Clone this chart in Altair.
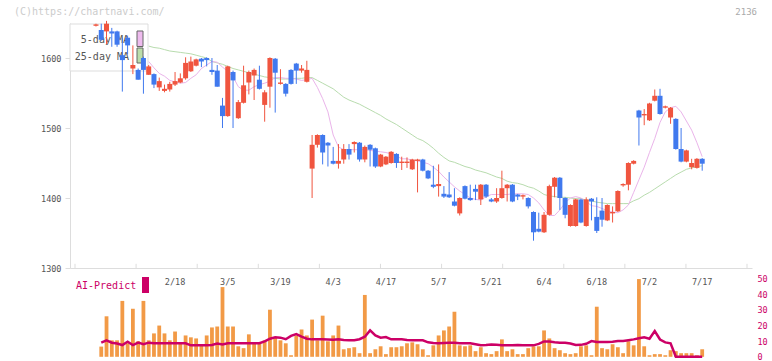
import altair as alt
import pandas as pd

# ---------------- data ----------------
opens = [1646, 1640, 1638, 1638, 1638, 1604, 1629, 1585, 1583, 1600,
         1576, 1577, 1558, 1553, 1555, 1562, 1565, 1571, 1581, 1589,
         1599, 1600, 1583, 1582, 1532, 1517, 1580, 1514, 1536, 1565,
         1575, 1569, 1533, 1559, 1599, 1563, 1563, 1583, 1592, 1582,
         1566, 1442, 1476, 1490, 1479, 1453, 1449, 1455, 1470, 1477,
         1479, 1455, 1476, 1471, 1445, 1448, 1450, 1463, 1450, 1450,
         1441, 1453, 1455, 1439, 1419, 1417, 1406, 1405, 1395, 1378,
         1417, 1400, 1413, 1398, 1419, 1398, 1395, 1400, 1414, 1419,
         1405, 1402, 1400, 1380, 1356, 1351, 1376, 1416, 1429, 1400,
         1360, 1360, 1398, 1360, 1399, 1373, 1382, 1368, 1378, 1381,
         1418, 1419, 1449, 1525, 1518, 1511, 1539, 1546, 1529, 1515,
         1513, 1470, 1452, 1444, 1443, 1456]
highs = [1649, 1649, 1653, 1643, 1639, 1629, 1632, 1618, 1585, 1602,
         1590, 1578, 1572, 1562, 1566, 1580, 1578, 1601, 1602, 1599,
         1600, 1601, 1600, 1590, 1543, 1589, 1582, 1540, 1589, 1582,
         1585, 1589, 1554, 1601, 1600, 1584, 1564, 1584, 1593, 1590,
         1596, 1490, 1491, 1491, 1480, 1473, 1477, 1477, 1477, 1481,
         1480, 1475, 1477, 1472, 1463, 1460, 1467, 1464, 1459, 1458,
         1456, 1456, 1456, 1440, 1446, 1448, 1417, 1437, 1414, 1401,
         1418, 1419, 1419, 1420, 1420, 1400, 1414, 1439, 1420, 1420,
         1406, 1405, 1401, 1381, 1379, 1380, 1419, 1430, 1430, 1401,
         1391, 1399, 1399, 1401, 1400, 1401, 1400, 1391, 1388, 1411,
         1421, 1451, 1454, 1526, 1527, 1536, 1555, 1556, 1532, 1530,
         1514, 1500, 1469, 1456, 1457, 1457]
lows = [1645, 1625, 1620, 1616, 1616, 1552, 1605, 1577, 1569, 1549,
        1576, 1557, 1553, 1551, 1552, 1560, 1564, 1569, 1580, 1588,
        1587, 1588, 1576, 1559, 1500, 1516, 1500, 1513, 1535, 1548,
        1540, 1555, 1509, 1529, 1522, 1562, 1545, 1562, 1563, 1579,
        1565, 1400, 1472, 1448, 1445, 1448, 1442, 1449, 1455, 1465,
        1452, 1451, 1445, 1443, 1444, 1447, 1449, 1443, 1440, 1443,
        1440, 1408, 1438, 1427, 1414, 1402, 1400, 1400, 1388, 1375,
        1398, 1396, 1397, 1390, 1400, 1394, 1393, 1399, 1395, 1394,
        1397, 1398, 1385, 1339, 1351, 1350, 1375, 1401, 1383, 1371,
        1359, 1359, 1364, 1359, 1368, 1350, 1359, 1367, 1365, 1380,
        1416, 1411, 1448, 1475, 1504, 1510, 1538, 1519, 1528, 1506,
        1469, 1451, 1451, 1441, 1442, 1439]
closes = [1648, 1626, 1649, 1635, 1619, 1597, 1618, 1590, 1569, 1583,
          1588, 1562, 1567, 1556, 1563, 1567, 1571, 1593, 1595, 1598,
          1595, 1597, 1580, 1559, 1517, 1588, 1568, 1537, 1561, 1580,
          1583, 1556, 1551, 1600, 1579, 1565, 1549, 1563, 1582, 1585,
          1583, 1476, 1490, 1465, 1475, 1449, 1453, 1470, 1462, 1480,
          1455, 1473, 1469, 1445, 1462, 1459, 1466, 1450, 1452, 1452,
          1455, 1455, 1439, 1428, 1416, 1420, 1402, 1401, 1389, 1400,
          1399, 1397, 1409, 1419, 1402, 1395, 1400, 1414, 1419, 1395,
          1402, 1404, 1388, 1351, 1352, 1376, 1417, 1429, 1400, 1376,
          1390, 1398, 1365, 1398, 1395, 1353, 1369, 1390, 1380, 1410,
          1420, 1450, 1453, 1515, 1520, 1535, 1546, 1520, 1531, 1529,
          1470, 1452, 1468, 1450, 1456, 1449]

# 5-day and 25-day moving averages, from day index 10 onward
ma5 = [1595, 1586, 1578, 1574, 1568, 1566, 1564, 1565, 1571, 1576,
       1585, 1590, 1595, 1594, 1587, 1581, 1573, 1559, 1554, 1554,
       1559, 1562, 1564, 1567, 1572, 1572, 1571, 1571, 1570, 1568,
       1569, 1571, 1558, 1542, 1523, 1490, 1473, 1469, 1469, 1469,
       1469, 1469, 1468, 1467, 1466, 1465, 1463, 1460, 1456, 1456,
       1454, 1453, 1451, 1449, 1444, 1438, 1430, 1423, 1416, 1410,
       1405, 1400, 1398, 1397, 1402, 1405, 1405, 1405, 1405, 1406,
       1406, 1406, 1405, 1400, 1393, 1383, 1375, 1375, 1383, 1393,
       1400, 1402, 1400, 1395, 1389, 1388, 1385, 1382, 1380, 1379,
       1383, 1390, 1408, 1426, 1444, 1465, 1485, 1508, 1523, 1529,
       1531, 1523, 1510, 1497, 1479, 1459]
ma25 = [1617, 1615, 1614, 1612, 1610, 1609, 1608, 1607, 1606, 1604,
        1602, 1600, 1595, 1593, 1591, 1588, 1585, 1583, 1581, 1579,
        1577, 1575, 1573, 1572, 1571, 1570, 1570, 1570, 1571, 1571,
        1572, 1572, 1568, 1564, 1560, 1556, 1550, 1544, 1540, 1537,
        1534, 1530, 1526, 1522, 1518, 1513, 1509, 1505, 1500, 1495,
        1490, 1485, 1482, 1477, 1471, 1464, 1458, 1453, 1451, 1448,
        1445, 1443, 1440, 1438, 1436, 1433, 1430, 1428, 1424, 1422,
        1421, 1419, 1416, 1414, 1410, 1405, 1403, 1402, 1401, 1401,
        1400, 1399, 1399, 1397, 1396, 1394, 1393, 1392, 1392, 1392,
        1392, 1392, 1396, 1399, 1404, 1408, 1413, 1418, 1423, 1428,
        1433, 1437, 1441, 1443, 1445, 1446]

# lower panel (day index 1 onward)
volume = [6.5, 25.8, 10.5, 10.5, 35.6, 8.6, 30.6, 9.9, 35.6, 10.5,
          14.9, 19.9, 14.9, 10.5, 16.1, 8.6, 13.6, 12.4, 11.7, 7.3,
          13.6, 18.7, 19.3, 44.4, 19.3, 19.3, 6.7, 5.5, 14.3, 8.6,
          8.6, 10.5, 30.0, 12.4, 10.5, 8.6, 1.0, 13.6, 17.4, 13.6,
          23.7, 10.5, 26.2, 9.9, 13.6, 19.9, 4.8, 5.5, 6.1, 2.3,
          39.4, 2.3, 4.8, 6.7, 1.7, 6.1, 6.1, 6.7, 8.6, 9.2,
          8.0, 4.8, 1.0, 7.3, 13.6, 16.8, 19.3, 28.7, 7.3, 6.7,
          7.3, 3.6, 6.1, 2.3, 1.7, 3.6, 11.1, 3.6, 4.8, 1.7,
          1.7, 5.5, 6.7, 6.7, 16.8, 11.7, 5.5, 4.2, 2.3, 1.7,
          2.3, 6.7, 7.3, 1.0, 31.9, 5.5, 4.8, 8.0, 6.1, 2.3,
          9.9, 7.3, 49.5, 6.7, 1.0, 1.7, 1.7, 1.0, 4.2, 3.6,
          2.3, 2.3, 2.3, 1.0, 4.8]
ai_predict = [9.0, 10.5, 9.0, 8.5, 7.5, 9.6, 7.5, 9.0, 8.0, 9.0,
              8.6, 8.6, 8.6, 8.6, 8.6, 8.6, 8.6, 7.3, 7.3, 7.3,
              7.3, 7.5, 8.4, 7.8, 8.6, 8.6, 8.6, 8.6, 8.6, 8.6,
              8.6, 9.8, 11.5, 12.4, 12.2, 11.2, 13.3, 14.5, 12.8, 11.5,
              11.1, 11.1, 11.1, 11.0, 10.9, 11.1, 10.7, 10.5, 10.5, 11.2,
              12.8, 16.8, 13.6, 12.2, 12.6, 11.1, 11.1, 11.1, 10.7, 10.5,
              10.5, 10.5, 9.2, 8.8, 8.6, 8.8, 9.0, 9.0, 8.7, 8.6,
              8.6, 8.0, 7.3, 7.5, 7.8, 7.6, 7.4, 7.3, 7.4, 7.5,
              7.4, 7.3, 7.3, 8.2, 9.8, 9.8, 9.3, 9.0, 9.0, 8.5,
              7.5, 7.6, 8.3, 10.0, 9.4, 9.4, 9.4, 9.6, 10.1, 10.1,
              10.6, 11.1, 11.8, 12.4, 11.5, 16.4, 11.0, 9.2, 8.6, 0.0,
              0.0, 0.0, 0.0, 0.0, 0.0]

date_idx = [15, 25, 35, 45, 55, 65, 75, 85, 95, 105, 115]
date_txt = ["2/18", "3/5", "3/19", "4/3", "4/17", "5/7", "5/21", "6/4", "6/18", "7/2", "7/17"]
price_ticks = [1300, 1400, 1500, 1600]
vol_ticks = [0, 10, 20, 30, 40, 50]
x_ticks = [-3.98, 7.61, 19.2, 30.79, 42.38, 53.97, 65.56, 77.15, 88.74, 100.33, 111.92, 123.5]

# ---------------- styling ----------------
RED = "#f0553f"
BLUE = "#4079ee"
PINK = "#eab4ea"
GREEN = "#b8dcae"
CRIMSON = "#cc0066"
ORANGE = "#f29a46"
AXIS_GRAY = "#dddddd"
MONO = "DejaVu Sans Mono"

n = len(opens)
candles = pd.DataFrame({"i": list(range(n)), "o": opens, "h": highs, "l": lows, "c": closes})
vdf = pd.DataFrame({"i": list(range(1, n)), "v": volume, "ai": ai_predict})
madf = pd.DataFrame({"i": list(range(10, n)), "ma5": ma5, "ma25": ma25})
ddf = pd.DataFrame({"i": date_idx, "t": date_txt})
tdf = pd.DataFrame({"i": x_ticks, "y0": [1300] * len(x_ticks), "y1": [1306] * len(x_ticks)})
one = pd.DataFrame({"k": [0]})

xs = alt.Scale(domain=[-3.98, 123.5], nice=False, zero=False)
xax = alt.Axis(values=x_ticks, labels=False, ticks=False, grid=False, title=None,
               domainColor=AXIS_GRAY, domainWidth=1)
X = alt.X("i:Q", scale=xs, axis=xax)

ps = alt.Scale(domain=[1300, 1650], nice=False, zero=False)
pax = alt.Axis(values=price_ticks, format="d", orient="left", grid=False, title=None, tickSize=5,
               tickColor=AXIS_GRAY, domainColor=AXIS_GRAY, labelFont=MONO, labelFontSize=8.5,
               labelColor="#555555", labelPadding=4)


def PY(f):
    return alt.Y(f, scale=ps, axis=pax)


vs = alt.Scale(domain=[0, 50], range=[333.8, 255.3], nice=False, zero=True)
vax = alt.Axis(values=vol_ticks, format="d", orient="right", grid=False, title=None, domain=False,
               ticks=False, labelFont=MONO, labelFontSize=8.5, labelColor=CRIMSON, labelPadding=5)


def VY(f):
    return alt.Y(f, scale=vs, axis=vax)


cond = alt.condition("datum.c >= datum.o", alt.value(RED), alt.value(BLUE))

ma25_line = alt.Chart(madf).mark_line(color=GREEN, strokeWidth=1).encode(x=X, y=PY("ma25:Q"))
ma5_line = alt.Chart(madf).mark_line(color=PINK, strokeWidth=1).encode(x=X, y=PY("ma5:Q"))

box = alt.Chart(one).mark_rect(fill="white", stroke=AXIS_GRAY, strokeWidth=1).encode(
    x=alt.value(0), x2=alt.value(78), y=alt.value(1), y2=alt.value(48))
lt1 = alt.Chart(one).mark_text(text="5-day MA", align="right", baseline="middle", font=MONO,
                               fontSize=10, color="#555555").encode(x=alt.value(59), y=alt.value(16.7))
lt2 = alt.Chart(one).mark_text(text="25-day MA", align="right", baseline="middle", font=MONO,
                               fontSize=10, color="#555555").encode(x=alt.value(59), y=alt.value(34))
sw1 = alt.Chart(one).mark_rect(fill="#eebbee", stroke="#666666", strokeWidth=1).encode(
    x=alt.value(67), x2=alt.value(73), y=alt.value(8), y2=alt.value(23.5))
sw2 = alt.Chart(one).mark_rect(fill="#bbddaa", stroke="#666666", strokeWidth=1).encode(
    x=alt.value(67), x2=alt.value(73), y=alt.value(25), y2=alt.value(40))

tick_rules = alt.Chart(tdf).mark_rule(color=AXIS_GRAY).encode(x=X, y=PY("y0:Q"), y2="y1:Q")
wicks = alt.Chart(candles).mark_rule(strokeWidth=1).encode(x=X, y=PY("l:Q"), y2="h:Q", color=cond)
bodies = alt.Chart(candles).mark_bar(size=5).encode(x=X, y=PY("o:Q"), y2="c:Q", color=cond)

dates = alt.Chart(ddf).mark_text(font=MONO, fontSize=8.5, color="#555555", baseline="middle").encode(
    x=X, y=alt.value(259.3), text="t:N")
wm1 = alt.Chart(one).mark_text(text="(C)https://chartnavi.com/", align="left", baseline="middle",
                               font=MONO, fontSize=10, color="#cccccc").encode(x=alt.value(-56), y=alt.value(-11))
wm2 = alt.Chart(one).mark_text(text="2136", align="right", baseline="middle",
                               font=MONO, fontSize=9, color="#aaaaaa").encode(x=alt.value(687), y=alt.value(-11))

price = alt.layer(ma25_line, ma5_line, box, lt1, lt2, sw1, sw2, tick_rules, wicks, bodies, dates, wm1, wm2)

vbars = alt.Chart(vdf).mark_bar(size=3.8, color=ORANGE).encode(x=X, y=VY("v:Q"))
ailine = alt.Chart(vdf).mark_line(color=CRIMSON, strokeWidth=2.5).encode(x=X, y=VY("ai:Q"))
ai_txt = alt.Chart(one).mark_text(text="AI-Predict", align="left", baseline="middle", font=MONO,
                                  fontSize=10, color=CRIMSON).encode(x=alt.value(6), y=alt.value(263))
ai_rect = alt.Chart(one).mark_rect(fill=CRIMSON).encode(
    x=alt.value(72), x2=alt.value(79), y=alt.value(254), y2=alt.value(270))

vol = alt.layer(vbars, ailine, ai_txt, ai_rect)

chart = alt.layer(price, vol).resolve_scale(y="independent").properties(
    width=682, height=245,
    autosize=alt.AutoSizeParams(type="none"),
    padding={"left": 70, "top": 23, "right": 20, "bottom": 93},
    background="white",
).configure_view(stroke=None)

chart.save("out.html", embed_options={"renderer": "svg", "actions": False})
